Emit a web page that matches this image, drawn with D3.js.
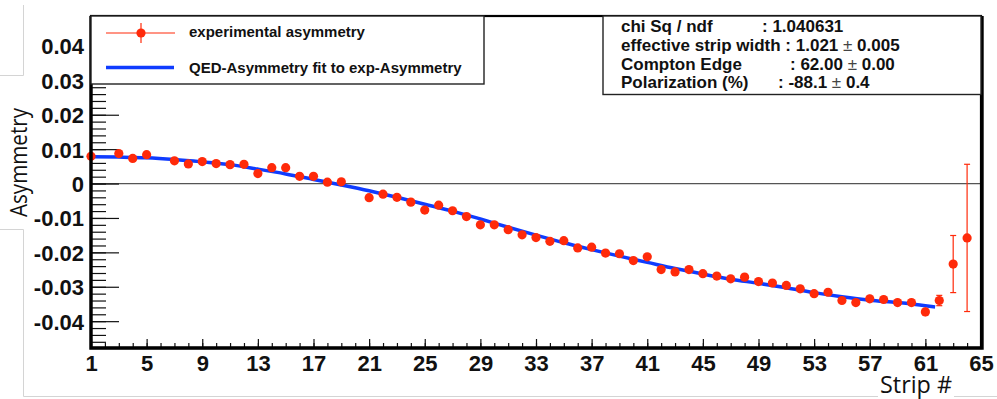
<!DOCTYPE html>
<html>
<head>
<meta charset="utf-8">
<script src="https://d3js.org/d3.v7.min.js"></script>
<style>
  html, body { margin: 0; padding: 0; background: #fff; }
  svg { display: block; }
  .tick text { font-family: "Liberation Sans", Arial, sans-serif; font-weight: bold; fill: #111; }
</style>
</head>
<body>
<div id="main"></div>
<script>
// strip numbers with a measurement (2, 6 and 20 are missing)
const strips = [1, 3, 4, 5, 7, 8, 9, 10, 11, 12, 13, 14, 15, 16, 17, 18, 19,
    21, 22, 23, 24, 25, 26, 27, 28, 29, 30, 31, 32, 33, 34, 35, 36, 37, 38, 39, 40,
    41, 42, 43, 44, 45, 46, 47, 48, 49, 50, 51, 52, 53, 54, 55, 56, 57, 58, 59, 60,
    61, 62, 63, 64];
const asym = [0.0079, 0.0087, 0.0073, 0.0084, 0.0066, 0.0057, 0.0064, 0.0058, 0.0055, 0.0056,
    0.0029, 0.0046, 0.0046, 0.0021, 0.0021, 0.0004, 0.0005,
    -0.0041, -0.0031, -0.0040, -0.0054, -0.0077, -0.0063, -0.0079, -0.0096, -0.0120, -0.0120,
    -0.0134, -0.0149, -0.0157, -0.0168, -0.0166, -0.0187, -0.0185, -0.0202, -0.0204, -0.0224,
    -0.0213, -0.0250, -0.0257, -0.0250, -0.0262, -0.0269, -0.0277, -0.0272, -0.0285, -0.0289,
    -0.0296, -0.0306, -0.0320, -0.0316, -0.0340, -0.0346, -0.0335, -0.0337, -0.0346, -0.0346,
    -0.0373, -0.0340, -0.0234, -0.0158];
const asymErr = [0.0010, 0.0010, 0.0010, 0.0010, 0.0010, 0.0010, 0.0010, 0.0010, 0.0010, 0.0010,
    0.0010, 0.0010, 0.0010, 0.0010, 0.0010, 0.0010, 0.0010,
    0.0010, 0.0010, 0.0010, 0.0010, 0.0010, 0.0010, 0.0010, 0.0010, 0.0010, 0.0010,
    0.0010, 0.0010, 0.0010, 0.0010, 0.0010, 0.0010, 0.0010, 0.0010, 0.0010, 0.0010,
    0.0010, 0.0010, 0.0010, 0.0010, 0.0010, 0.0010, 0.0010, 0.0010, 0.0011, 0.0011,
    0.0011, 0.0011, 0.0011, 0.0011, 0.0011, 0.0011, 0.0012, 0.0012, 0.0012, 0.0012,
    0.0013, 0.0015, 0.0083, 0.0214];

// QED fit curve
const fitStrips = [1, 3, 5, 7, 9, 11, 13, 15, 17, 19, 21, 23, 25, 27, 29, 31, 33, 35, 37, 39,
    41, 43, 45, 47, 49, 51, 53, 55, 57, 59, 61, 61.7];
const fitAsym = [0.0078, 0.0077, 0.0075, 0.0070, 0.0063, 0.0055, 0.0042, 0.0028, 0.0012, -0.0004,
    -0.0021, -0.0040, -0.0060, -0.0080, -0.0103, -0.0127, -0.0150, -0.0172, -0.0192, -0.0211,
    -0.0229, -0.0247, -0.0263, -0.0278, -0.0290, -0.0303, -0.0317, -0.0329, -0.0339, -0.0346,
    -0.0355, -0.0359];

const xTicks = [1, 5, 9, 13, 17, 21, 25, 29, 33, 37, 41, 45, 49, 53, 57, 61, 65];
const yTicks = [-0.04, -0.03, -0.02, -0.01, 0, 0.01, 0.02, 0.03, 0.04];

const legendLabels = ["experimental asymmetry", "QED-Asymmetry fit to exp-Asymmetry"];
const statsLabels = ["chi Sq / ndf", "effective strip width", "Compton Edge", "Polarization (%)"];
const statsValues = [": 1.040631", ": 1.021", ": 62.00", ": -88.1"];
const statsErrors = [null, "0.005", "0.00", "0.4"];

const W = 997, H = 399;
const RED = "#ff2a0a", BLUE = "#0f3cff";
const frame = { left: 91, right: 981, top: 16, bottom: 348 };

const svg = d3.select("#main").append("svg").attr("width", W).attr("height", H);

// slide artefacts (faint text-box borders)
const art = svg.append("g").attr("stroke", "#d4d4d4").attr("stroke-width", 1).attr("fill", "none");
art.append("path").attr("d", "M23.5,5V75.5H0");
art.append("path").attr("d", "M0,229.5H23.5V396.5H997");

const x = d3.scaleLinear().domain([1, 65]).range([frame.left, frame.right]);
const y = d3.scaleLinear().domain([-0.0478, 0.0487]).range([frame.bottom, frame.top]);

const plot = svg.append("g");

// zero line
plot.append("line")
    .attr("x1", frame.left).attr("x2", frame.right)
    .attr("y1", y(0)).attr("y2", y(0))
    .attr("stroke", "#555").attr("stroke-width", 1.3);

// axes
const yMinor = d3.range(-46, 49, 2).map(v => v / 1000);
const xMinor = d3.range(1, 66);

plot.append("g")
    .attr("transform", `translate(${frame.left},0)`)
    .call(d3.axisLeft(y).tickValues(yMinor).tickSize(-15).tickFormat(""))
    .call(g => g.select(".domain").remove())
    .selectAll("line").attr("stroke", "#111").attr("stroke-width", 1.2);

plot.append("g")
    .attr("transform", `translate(${frame.left},0)`)
    .call(d3.axisLeft(y).tickValues(yTicks).tickSize(-28).tickPadding(7)
        .tickFormat(d => d === 0 ? "0" : d.toFixed(2)))
    .call(g => g.select(".domain").remove())
    .call(g => g.selectAll("line").attr("stroke", "#111").attr("stroke-width", 1.2))
    .call(g => g.selectAll("text").attr("font-size", 22).attr("dy", "0.36em"));

plot.append("g")
    .attr("transform", `translate(0,${frame.bottom})`)
    .call(d3.axisBottom(x).tickValues(xMinor).tickSize(-5).tickFormat(""))
    .call(g => g.select(".domain").remove())
    .selectAll("line").attr("stroke", "#111").attr("stroke-width", 1.2);

plot.append("g")
    .attr("transform", `translate(0,${frame.bottom})`)
    .call(d3.axisBottom(x).tickValues(xTicks).tickSize(-9).tickPadding(7))
    .call(g => g.select(".domain").remove())
    .call(g => g.selectAll("line").attr("stroke", "#111").attr("stroke-width", 1.2))
    .call(g => g.selectAll("text").attr("font-size", 22).attr("dy", "0.71em"));

// fit curve
plot.append("path")
    .datum(fitStrips.map((s, i) => [s, fitAsym[i]]))
    .attr("fill", "none")
    .attr("stroke", BLUE)
    .attr("stroke-width", 3.5)
    .attr("d", d3.line().x(d => x(d[0])).y(d => y(d[1])).curve(d3.curveMonotoneX));

// data with error bars
const pts = strips.map((s, i) => ({ s: s, v: asym[i], e: asymErr[i] }));
const pg = plot.append("g").selectAll("g").data(pts).enter().append("g");
pg.append("line")
    .attr("x1", d => x(d.s)).attr("x2", d => x(d.s))
    .attr("y1", d => y(d.v + d.e)).attr("y2", d => y(d.v - d.e))
    .attr("stroke", RED).attr("stroke-width", 1.2);
pg.filter(d => d.e > 0.0013).each(function(d) {
    const g = d3.select(this);
    [d.v + d.e, d.v - d.e].forEach(v => {
        g.append("line")
            .attr("x1", x(d.s) - 3).attr("x2", x(d.s) + 3)
            .attr("y1", y(v)).attr("y2", y(v))
            .attr("stroke", RED).attr("stroke-width", 1.2);
    });
});
pg.append("circle")
    .attr("cx", d => x(d.s)).attr("cy", d => y(d.v))
    .attr("r", 4.6).attr("fill", RED);

// frame
svg.append("rect")
    .attr("x", frame.left).attr("y", frame.top)
    .attr("width", frame.right - frame.left).attr("height", frame.bottom - frame.top)
    .attr("fill", "none").attr("stroke", "#000").attr("stroke-width", 2.2);
svg.append("path")
    .attr("d", `M${frame.left},${frame.top}V${frame.bottom}H${frame.right + 1}V${frame.top}`)
    .attr("fill", "none").attr("stroke", "#000").attr("stroke-width", 3.4);

// legend
const leg = svg.append("g");
leg.append("rect").attr("x", frame.left).attr("y", frame.top)
    .attr("width", 393).attr("height", 68)
    .attr("fill", "#fff").attr("stroke", "#222").attr("stroke-width", 1.4);
leg.append("line").attr("x1", 106).attr("x2", 175).attr("y1", 33).attr("y2", 33)
    .attr("stroke", RED).attr("stroke-width", 1.2);
leg.append("line").attr("x1", 141).attr("x2", 141).attr("y1", 23).attr("y2", 43)
    .attr("stroke", RED).attr("stroke-width", 1.2);
leg.append("circle").attr("cx", 141).attr("cy", 33).attr("r", 4.6).attr("fill", RED);
leg.append("line").attr("x1", 106).attr("x2", 174).attr("y1", 67.5).attr("y2", 67.5)
    .attr("stroke", BLUE).attr("stroke-width", 3.5);
leg.selectAll("text.lab").data(legendLabels).enter().append("text")
    .attr("class", "lab")
    .attr("x", 189).attr("y", (d, i) => [37, 72.5][i])
    .attr("font-family", "Liberation Sans, Arial, sans-serif")
    .attr("font-weight", "bold").attr("font-size", 15).attr("fill", "#111")
    .text(d => d);

// stats box
const st = svg.append("g");
st.append("rect").attr("x", 603).attr("y", frame.top)
    .attr("width", frame.right - 603).attr("height", 78.5)
    .attr("fill", "#fff").attr("stroke", "#222").attr("stroke-width", 1.4);
const baseY = [31.5, 51, 69.5, 88];
const valX = [762, null, 790, 778];
statsLabels.forEach((lab, i) => {
    const t = st.append("text")
        .attr("x", 621).attr("y", baseY[i])
        .attr("font-family", "Liberation Sans, Arial, sans-serif")
        .attr("font-weight", "bold").attr("font-size", 17).attr("fill", "#111");
    if (valX[i] === null) {
        t.append("tspan").text(lab + " " + statsValues[i]);
    } else {
        t.append("tspan").text(lab);
        t.append("tspan").attr("x", valX[i]).text(statsValues[i]);
    }
    if (statsErrors[i] !== null) {
        t.append("tspan").attr("font-weight", "normal").attr("fill", "#444").text(" \u00b1");
        t.append("tspan").text(" " + statsErrors[i]);
    }
});

// axis titles (slide text boxes)
svg.append("text")
    .attr("transform", "translate(27,217) rotate(-90)")
    .attr("font-family", "Open Sans, Noto Sans, sans-serif")
    .attr("font-size", 23).attr("fill", "#111")
    .attr("textLength", 109).attr("lengthAdjust", "spacingAndGlyphs")
    .text("Asymmetry");

svg.append("rect").attr("x", 878).attr("y", 386).attr("width", 76).attr("height", 13).attr("fill", "#fff");
svg.append("text")
    .attr("x", 880).attr("y", 393)
    .attr("font-family", "Open Sans, Noto Sans, sans-serif")
    .attr("font-size", 23).attr("fill", "#111")
    .attr("textLength", 72).attr("lengthAdjust", "spacingAndGlyphs")
    .text("Strip #");
</script>
</body>
</html>
